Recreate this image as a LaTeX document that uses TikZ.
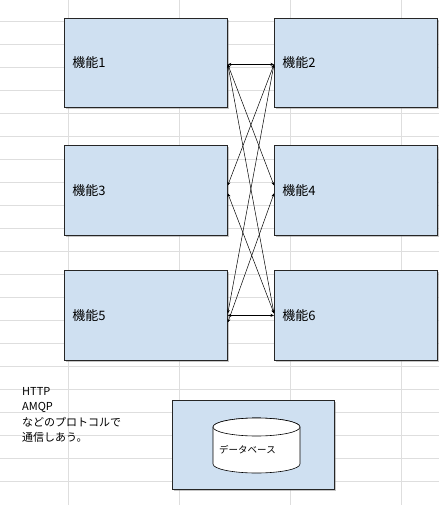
\documentclass[tikz,border=0pt]{standalone}
\usepackage{fontspec}
\setmainfont{Noto Sans CJK JP}
\usetikzlibrary{arrows.meta,shadows}
\definecolor{boxfill}{HTML}{CFE0F1}
\definecolor{gridc}{HTML}{DEDEDE}
\begin{document}
\begin{tikzpicture}[x=1pt,y=-1pt,
  funcbox/.style={draw=black!85,line width=0.8pt,fill=boxfill,
    minimum width=163pt,minimum height=90pt,anchor=north west,
    text width=147pt,align=left,inner xsep=8pt,font=\fontsize{13}{15}\selectfont,
    drop shadow={shadow xshift=1.2pt,shadow yshift=-1.2pt,opacity=0.45,fill=gray}},
  link/.style={line width=0.5pt,{Stealth[length=3.5pt,width=3pt]}-{Stealth[length=3.5pt,width=3pt]}},
  gridline/.style={gridc,line width=0.7pt}]
\useasboundingbox (0,0) rectangle (439,505);
\fill[white] (0,0) rectangle (439,505);
% spreadsheet grid
\foreach \gx in {68,179,290,401} \draw[gridline] (\gx,0) -- (\gx,505);
\foreach \k in {0,...,20} \draw[gridline] (0,21+23*\k) -- (439,21+23*\k);
% function boxes
\node[funcbox,minimum height=89pt] (b1) at (64,18) {機能1};
\node[funcbox,minimum width=162pt,minimum height=89pt] (b2) at (274,18) {機能2};
\node[funcbox] (b3) at (64,145) {機能3};
\node[funcbox,minimum width=162pt] (b4) at (274,145) {機能4};
\node[funcbox] (b5) at (64,270) {機能5};
\node[funcbox,minimum width=162pt] (b6) at (274,270) {機能6};
% attachment points
\coordinate (p1) at ([yshift=-1.5pt]b1.east);
\coordinate (p2) at ([yshift=-1.5pt]b2.west);
\coordinate (p3u) at ([yshift=5pt]b3.east);
\coordinate (p3d) at ([yshift=-3pt]b3.east);
\coordinate (p4u) at ([yshift=5pt]b4.west);
\coordinate (p4d) at ([yshift=-3pt]b4.west);
\coordinate (p5u) at ([yshift=2pt]b5.east);
\coordinate (p5d) at ([yshift=-7pt]b5.east);
\coordinate (p6u) at ([yshift=2pt]b6.west);
% connectors
\draw[link] (p1) -- (p2);
\draw[link] (p1) -- (p4u);
\draw[link] (p1) -- (p6u);
\draw[link] (p2) -- (p3u);
\draw[link] (p2) -- (p5u);
\draw[link] (p3d) -- (p6u);
\draw[link] (p4d) -- (p5d);
\draw[link] (b5.east) -- (b6.west);
% protocol note
\node[anchor=north west,align=left,inner sep=0pt,font=\fontsize{11}{15.5}\selectfont] (note) at (22,387)
  {HTTP\\AMQP\\などのプロトコルで\\通信しあう。};
% database box
\node[draw=black!85,line width=0.8pt,fill=boxfill,anchor=north west,
  minimum width=162pt,minimum height=89pt,
  drop shadow={shadow xshift=1.2pt,shadow yshift=-1.2pt,opacity=0.45,fill=gray}] (dbbox) at (172,400) {};
\draw[fill=white,line width=0.6pt] (213,427) -- (213,464) arc[start angle=180,end angle=360,x radius=43.5,y radius=-9]
  -- (300,427) arc[start angle=0,end angle=180,x radius=43.5,y radius=-9] -- cycle;
\draw[fill=white,line width=0.6pt] (256.5,427) ellipse[x radius=43.5,y radius=9];
\node[font=\fontsize{9.5}{11}\selectfont,inner sep=0pt] (db) at (247.5,450) {データベース};
\end{tikzpicture}
\end{document}
